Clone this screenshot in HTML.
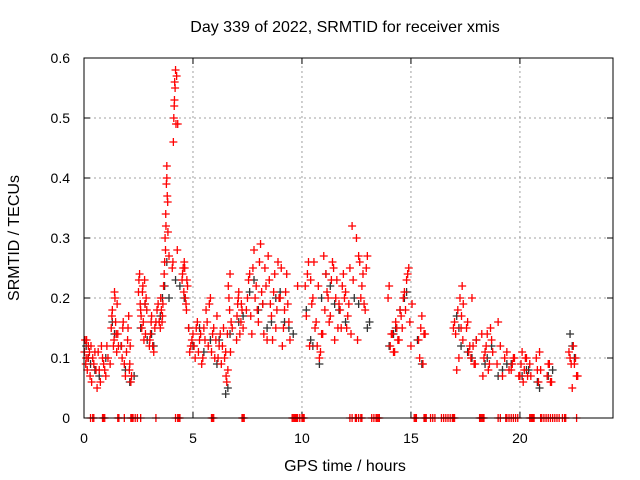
<!DOCTYPE html>
<html><head><meta charset="utf-8"><style>
body{margin:0;background:#fff}
svg{display:block;font-family:"Liberation Sans",sans-serif}
</style></head><body>
<svg id="c" width="640" height="480">
<text x="345" y="32" font-size="16" text-anchor="middle">Day 339 of 2022, SRMTID for receiver xmis</text>
<text x="345" y="471" font-size="16" text-anchor="middle">GPS time / hours</text>
<text transform="translate(19,238) rotate(-90)" font-size="16" text-anchor="middle">SRMTID / TECUs</text>
<g id="grid"></g><g id="ticks"></g><g id="marks"></g>
<rect x="84" y="58" width="529" height="360" fill="none" stroke="#000"/>
</svg>
<script>
const xTicks=[0,5,10,15,20];
const yTicks=[0,0.1,0.2,0.3,0.4,0.5,0.6];
const yTickLabels=["0","0.1","0.2","0.3","0.4","0.5","0.6"];
const blackT=[0.1,0.3,0.7,1.0,1.4,1.9,2.1,2.6,2.9,3.2,3.5,3.7,3.8,3.9,4.2,4.6,5.0,5.3,5.8,6.1,6.6,6.7,7.1,7.6,8.0,8.4,8.8,9.2,9.6,10.2,10.5,10.9,11.3,11.7,12.0,12.6,13.0,14.0,14.3,14.7,15.3,17.1,17.3,17.8,18.4,18.7,19.2,19.6,20.1,20.4,20.8,21.3,22.3,22.5,
0.2,0.5,1.3,1.7,2.3,2.8,3.1,3.6,4.4,4.8,5.5,6.2,6.5,7.3,7.8,8.2,8.6,9.0,9.4,10.4,10.8,11.1,11.5,12.4,13.1,14.2,14.5,14.8,15.5,17.2,17.6,18.0,18.5,19.0,19.4,20.3,20.9,21.5,22.4];
const blackV=[0.12,0.09,0.07,0.1,0.14,0.08,0.06,0.15,0.13,0.12,0.17,0.22,0.26,0.2,0.23,0.2,0.12,0.15,0.13,0.09,0.05,0.14,0.16,0.21,0.18,0.15,0.2,0.16,0.14,0.18,0.12,0.2,0.22,0.18,0.16,0.19,0.15,0.12,0.15,0.2,0.13,0.17,0.12,0.1,0.09,0.12,0.08,0.09,0.07,0.08,0.06,0.07,0.14,0.1,
0.1,0.08,0.16,0.12,0.07,0.19,0.14,0.2,0.22,0.15,0.11,0.13,0.04,0.17,0.23,0.19,0.16,0.21,0.15,0.13,0.09,0.24,0.19,0.2,0.16,0.14,0.18,0.21,0.09,0.15,0.11,0.13,0.1,0.07,0.09,0.08,0.05,0.08,0.12];
const redT=[0.05,0.1,0.15,0.2,0.25,0.35,0.45,0.5,0.6,0.7,0.8,0.9,1.0,1.1,1.25,1.3,1.35,1.4,1.45,1.5,1.55,1.75,1.8,1.9,2.0,2.05,2.1,2.15,2.5,2.55,2.6,2.65,2.7,2.75,2.8,2.85,3.0,3.05,3.1,3.2,3.3,3.4,3.5,3.55,3.6,3.65,3.7,3.72,3.75,3.78,3.8,3.82,3.85,3.9,4.05,4.1,4.12,4.15,4.18,4.2,4.25,4.3,4.5,4.55,4.6,4.65,4.7,4.75,4.9,5.0,5.1,5.2,5.3,5.4,5.5,5.6,5.7,5.8,5.9,6.0,6.1,6.2,6.3,6.4,6.5,6.55,6.6,6.65,6.7,6.75,7.0,7.05,7.1,7.2,7.25,7.5,7.6,7.7,7.8,7.9,8.0,8.1,8.2,8.3,8.4,8.5,8.6,8.7,8.8,8.9,9.0,9.1,9.2,9.3,9.4,9.8,10.2,10.3,10.4,10.5,10.6,10.7,10.8,10.9,11.0,11.1,11.2,11.3,11.4,11.5,11.6,11.7,11.8,11.9,12.0,12.1,12.2,12.25,12.3,12.5,12.6,12.7,12.8,12.9,13.0,14.0,14.1,14.2,14.3,14.4,14.5,14.6,14.7,14.8,14.9,15.0,15.4,15.5,15.6,17.0,17.1,17.2,17.3,17.35,17.4,17.6,17.7,17.8,17.9,18.0,18.3,18.4,18.5,18.6,18.7,19.0,19.2,19.4,19.6,19.7,20.0,20.1,20.2,20.3,20.5,20.8,20.9,21.3,21.4,22.3,22.4,22.5,22.6];
const redV=[0.13,0.1,0.08,0.12,0.11,0.06,0.09,0.11,0.05,0.08,0.12,0.09,0.07,0.1,0.15,0.18,0.12,0.21,0.16,0.11,0.14,0.1,0.16,0.07,0.13,0.17,0.09,0.06,0.21,0.24,0.18,0.15,0.22,0.13,0.19,0.2,0.12,0.14,0.17,0.11,0.16,0.19,0.15,0.18,0.17,0.22,0.26,0.3,0.34,0.39,0.42,0.37,0.31,0.27,0.25,0.46,0.5,0.53,0.55,0.58,0.57,0.49,0.23,0.25,0.26,0.2,0.18,0.22,0.12,0.14,0.1,0.16,0.13,0.09,0.15,0.18,0.12,0.2,0.14,0.1,0.17,0.12,0.09,0.15,0.11,0.06,0.08,0.2,0.24,0.16,0.13,0.19,0.21,0.16,0.18,0.2,0.24,0.14,0.28,0.22,0.16,0.29,0.19,0.25,0.13,0.23,0.17,0.21,0.15,0.26,0.2,0.12,0.18,0.24,0.16,0.22,0.17,0.26,0.23,0.2,0.15,0.12,0.1,0.14,0.27,0.24,0.2,0.17,0.26,0.13,0.23,0.19,0.15,0.24,0.21,0.17,0.25,0.14,0.32,0.3,0.27,0.2,0.24,0.18,0.27,0.22,0.14,0.11,0.16,0.13,0.18,0.15,0.21,0.23,0.25,0.12,0.1,0.17,0.14,0.16,0.08,0.1,0.15,0.22,0.19,0.16,0.12,0.2,0.09,0.13,0.07,0.11,0.14,0.09,0.13,0.16,0.07,0.11,0.08,0.1,0.07,0.11,0.08,0.1,0.07,0.08,0.11,0.09,0.06,0.1,0.05,0.09,0.07,0.08,0.12,0.1,0.08,0.13];
const redT2=[0.02,0.08,0.12,0.18,0.28,0.32,0.4,0.55,0.65,0.75,0.85,0.95,1.05,1.2,1.28,1.38,1.42,1.48,1.52,1.58,1.72,1.78,1.85,1.95,2.02,2.08,2.12,2.18,2.52,2.58,2.62,2.68,2.72,2.78,2.82,2.88,3.02,3.08,3.15,3.25,3.35,3.45,3.52,3.58,3.62,3.68,3.74,3.76,3.8,3.84,4.08,4.14,4.16,4.22,4.28,4.52,4.58,4.62,4.68,4.72,4.8,4.85,4.95,5.05,5.15,5.25,5.35,5.45,5.55,5.65,5.75,5.85,5.95,6.05,6.15,6.25,6.35,6.45,6.52,6.58,6.62,6.68,6.72,6.8,7.02,7.08,7.15,7.22,7.3,7.45,7.55,7.65,7.75,7.85,7.95,8.05,8.15,8.25,8.35,8.45,8.55,8.65,8.75,8.85,8.95,9.05,9.15,9.25,9.35,9.45,10.15,10.25,10.35,10.45,10.55,10.65,10.75,10.85,10.95,11.05,11.15,11.25,11.35,11.45,11.55,11.65,11.75,11.85,11.95,12.05,12.15,12.35,12.55,12.65,12.75,12.85,12.95,13.95,14.05,14.15,14.25,14.35,14.45,14.55,14.65,14.75,14.85,14.95,15.05,15.35,15.45,15.55,15.65,16.95,17.05,17.15,17.25,17.32,17.38,17.55,17.65,17.75,17.85,17.95,18.25,18.35,18.45,18.55,18.65,18.75,18.95,19.1,19.3,19.5,19.65,19.75,19.95,20.05,20.15,20.25,20.35,20.45,20.75,20.85,20.95,21.25,21.35,21.45,22.25,22.35,22.45,22.55,22.65];
const redV2=[0.11,0.09,0.13,0.1,0.07,0.12,0.1,0.08,0.11,0.06,0.1,0.08,0.12,0.09,0.17,0.13,0.2,0.14,0.19,0.12,0.12,0.15,0.09,0.11,0.15,0.08,0.12,0.07,0.23,0.19,0.17,0.21,0.16,0.23,0.14,0.18,0.13,0.16,0.12,0.15,0.18,0.16,0.2,0.16,0.19,0.24,0.28,0.32,0.4,0.36,0.26,0.52,0.56,0.49,0.28,0.24,0.21,0.25,0.19,0.23,0.15,0.11,0.13,0.12,0.15,0.11,0.14,0.1,0.13,0.16,0.19,0.11,0.15,0.13,0.1,0.14,0.12,0.1,0.07,0.14,0.22,0.18,0.11,0.15,0.17,0.2,0.14,0.19,0.15,0.18,0.23,0.17,0.25,0.2,0.18,0.26,0.21,0.14,0.22,0.27,0.19,0.13,0.24,0.18,0.2,0.25,0.15,0.21,0.19,0.13,0.22,0.24,0.12,0.19,0.26,0.16,0.22,0.11,0.14,0.18,0.21,0.16,0.23,0.25,0.2,0.15,0.18,0.22,0.2,0.15,0.19,0.23,0.13,0.26,0.22,0.19,0.25,0.2,0.12,0.14,0.11,0.15,0.13,0.17,0.2,0.18,0.24,0.16,0.19,0.13,0.15,0.09,0.14,0.15,0.14,0.18,0.2,0.17,0.13,0.15,0.11,0.1,0.12,0.09,0.14,0.1,0.12,0.08,0.15,0.11,0.09,0.12,0.1,0.08,0.09,0.1,0.07,0.09,0.06,0.1,0.07,0.09,0.1,0.06,0.08,0.07,0.09,0.06,0.11,0.09,0.12,0.1,0.07];
const zeroT=[0.4,0.9,1.6,1.85,2.2,2.35,2.45,2.6,3.3,4.3,4.4,5.9,7.3,9.6,9.7,9.8,10.0,10.1,12.3,12.5,12.7,13.2,13.4,13.5,15.2,15.6,15.7,16.0,16.4,16.6,16.8,17.0,18.2,18.3,19.0,19.4,19.5,19.7,19.9,20.5,20.6,21.0,21.2,21.5,21.7,22.1,22.6,
0.3,0.45,0.85,0.95,1.55,2.15,2.25,4.2,4.35,5.85,5.95,7.25,7.35,9.55,9.65,9.75,9.9,10.05,12.2,12.45,12.6,12.75,13.3,13.45,13.55,15.15,15.25,15.65,15.9,16.1,16.5,16.7,16.9,16.95,18.15,18.25,18.35,19.1,19.35,19.6,19.8,20.45,20.55,20.65,20.95,21.1,21.3,21.4,21.6,21.8,21.95,22.05];
const NS="http://www.w3.org/2000/svg";
const X0=84,X1=613,Y0=418,Y1=58,XMAX=24.27,YMAX=0.6;
function xs(t){return X0+t/XMAX*(X1-X0);}
function ys(v){return Y0-v/YMAX*(Y0-Y1);}
function mk(tag,a,p){const e=document.createElementNS(NS,tag);for(const k in a)e.setAttribute(k,a[k]);p.appendChild(e);return e;}
const grid=document.getElementById('grid'),ticks=document.getElementById('ticks'),marks=document.getElementById('marks');
xTicks.forEach(t=>{const x=xs(t);
 if(t>0){const g=mk('line',{x1:x,x2:x,y1:Y0,y2:Y1,stroke:'#a0a0a0','stroke-dasharray':'2,3'},grid);
 
 }
 mk('line',{x1:x,x2:x,y1:Y0,y2:Y0-6,stroke:'#000'},ticks);
 mk('line',{x1:x,x2:x,y1:Y1,y2:Y1+6,stroke:'#000'},ticks);
 const l=mk('text',{x:x,y:443,'font-size':14,'text-anchor':'middle'},ticks);l.textContent=t;
 
 });
yTicks.forEach((v,i)=>{const y=ys(v);
 if(v>0&&v<0.6){const g=mk('line',{x1:X0,x2:X1,y1:y,y2:y,stroke:'#a0a0a0','stroke-dasharray':'2,3'},grid);
 
 }
 mk('line',{x1:X0,x2:X0+6,y1:y,y2:y,stroke:'#000'},ticks);
 mk('line',{x1:X1,x2:X1-6,y1:y,y2:y,stroke:'#000'},ticks);
 const l=mk('text',{x:70,y:y+5,'font-size':14,'text-anchor':'end'},ticks);l.textContent=yTickLabels[i];
 
 });
function plus(t,v,c,name){const x=xs(t),y=ys(v);
 const p=mk('path',{d:`M${x-4},${y}h8M${x},${y-4}v8`,stroke:c,'stroke-width':1.3,fill:'none'},marks);
 
 }
blackT.forEach((t,i)=>plus(t,blackV[i],'#333','black-point'));
redT.forEach((t,i)=>plus(t,redV[i],'#f00','red-point'));
redT2.forEach((t,i)=>plus(t,redV2[i],'#f00','red-point'));
zeroT.forEach(t=>plus(t,0,'#f00','zero-point'));
</script>
</body></html>
